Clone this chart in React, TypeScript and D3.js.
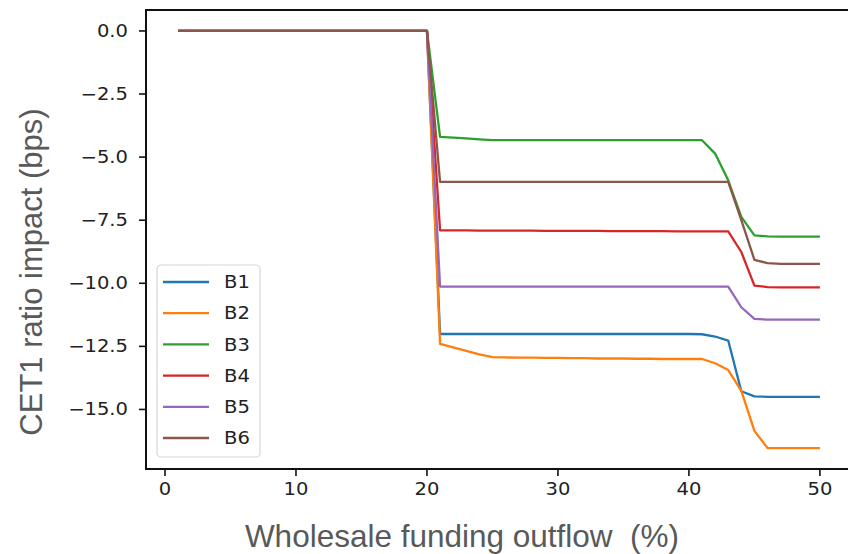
import React from "react";
import * as d3 from "d3";

// outflow in %, one point per step
const outflow = [
  1, 2, 3, 4, 5, 6, 7, 8, 9, 10, 11, 12, 13, 14, 15, 16, 17, 18, 19, 20,
  21, 22, 23, 24, 25, 26, 27, 28, 29, 30, 31, 32, 33, 34, 35, 36, 37, 38, 39, 40,
  41, 42, 43, 44, 45, 46, 47, 48, 49, 50,
];

const zeros20 = [0, 0, 0, 0, 0, 0, 0, 0, 0, 0, 0, 0, 0, 0, 0, 0, 0, 0, 0, 0];

const b1 = [
  ...zeros20,
  -12.01, -12.01, -12.01, -12.01, -12.01, -12.01, -12.01, -12.01, -12.01, -12.01,
  -12.01, -12.01, -12.01, -12.01, -12.01, -12.01, -12.01, -12.01, -12.01, -12.01,
  -12.02, -12.11, -12.27, -14.28, -14.48, -14.5, -14.5, -14.5, -14.5, -14.5,
];
const b2 = [
  ...zeros20,
  -12.4, -12.54, -12.68, -12.82, -12.93, -12.94, -12.95, -12.95, -12.96, -12.96,
  -12.97, -12.97, -12.98, -12.98, -12.98, -12.99, -12.99, -13.0, -13.0, -13.0,
  -13.0, -13.17, -13.44, -14.26, -15.85, -16.53, -16.53, -16.53, -16.53, -16.53,
];
const b3 = [
  ...zeros20,
  -4.2, -4.23, -4.26, -4.3, -4.33, -4.33, -4.33, -4.33, -4.33, -4.33,
  -4.33, -4.33, -4.33, -4.33, -4.33, -4.33, -4.33, -4.33, -4.33, -4.33,
  -4.33, -4.86, -5.92, -7.37, -8.1, -8.14, -8.15, -8.15, -8.15, -8.15,
];
const b4 = [
  ...zeros20,
  -7.9, -7.9, -7.9, -7.91, -7.91, -7.91, -7.91, -7.91, -7.92, -7.92,
  -7.92, -7.92, -7.92, -7.93, -7.93, -7.93, -7.93, -7.93, -7.94, -7.94,
  -7.94, -7.94, -7.94, -8.76, -10.09, -10.15, -10.16, -10.16, -10.16, -10.16,
];
const b5 = [
  ...zeros20,
  -10.13, -10.13, -10.13, -10.13, -10.13, -10.13, -10.13, -10.13, -10.13, -10.13,
  -10.13, -10.13, -10.13, -10.13, -10.13, -10.13, -10.13, -10.13, -10.13, -10.13,
  -10.13, -10.13, -10.13, -10.95, -11.41, -11.44, -11.44, -11.44, -11.44, -11.44,
];
const b6 = [
  ...zeros20,
  -5.98, -5.98, -5.98, -5.98, -5.98, -5.98, -5.98, -5.98, -5.98, -5.98,
  -5.98, -5.98, -5.98, -5.98, -5.98, -5.98, -5.98, -5.98, -5.98, -5.98,
  -5.98, -5.98, -5.98, -7.5, -9.07, -9.2, -9.23, -9.23, -9.23, -9.23,
];

const seriesNames = ["B1", "B2", "B3", "B4", "B5", "B6"];
const seriesValues = [b1, b2, b3, b4, b5, b6];
const colors = ["#1f77b4", "#ff7f0e", "#2ca02c", "#d62728", "#9467bd", "#8c564b"];

const xTicks = [0, 10, 20, 30, 40, 50];
const yTicks = [0, -2.5, -5, -7.5, -10, -12.5, -15];

const W = 848;
const H = 554;
const left = 146;
const right = 852;
const top = 10;
const bottom = 469;

const tickFont = "DejaVu Sans, sans-serif";
const labelFont = "Liberation Sans, Arial, sans-serif";
// the source picture is a bit wider than tall, so the small text is stretched
const stretch = "scale(1.15,1)";

export default function App() {
  const x = d3.scaleLinear().domain([-1.45, 52.45]).range([left, right]);
  const y = d3.scaleLinear().domain([0.83, -17.36]).range([top, bottom]);
  const fmt = d3.format(".1f");

  const line = d3
    .line<number>()
    .x((_, i) => x(outflow[i]))
    .y((d) => y(d));

  return (
    <svg
      width={W}
      height={H}
      style={{ position: "absolute", left: 0, top: 0, background: "#fff" }}
    >
      <rect x={0} y={0} width={W} height={H} fill="#fff" />

      <g>
        {seriesValues.map((vals, i) => (
          <path
            key={seriesNames[i]}
            d={line(vals) || ""}
            fill="none"
            stroke={colors[i]}
            strokeWidth={2.3}
            strokeLinejoin="round"
          />
        ))}
      </g>

      {/* spines */}
      <rect
        x={left}
        y={top}
        width={right - left}
        height={bottom - top}
        fill="none"
        stroke="#111"
        strokeWidth={2}
      />

      {/* x axis */}
      {xTicks.map((t) => (
        <g key={t} transform={`translate(${x(t)},${bottom})`}>
          <line y1={0} y2={7} stroke="#111" strokeWidth={1.6} />
          <text
            transform={`translate(0,26) ${stretch}`}
            textAnchor="middle"
            fontFamily={tickFont}
            fontSize={17}
            fill="#222"
          >
            {t}
          </text>
        </g>
      ))}

      {/* y axis */}
      {yTicks.map((t) => (
        <g key={t} transform={`translate(${left},${y(t)})`}>
          <line x1={0} x2={-7} stroke="#111" strokeWidth={1.6} />
          <text
            transform={`translate(-18,0) ${stretch}`}
            dy="0.35em"
            textAnchor="end"
            fontFamily={tickFont}
            fontSize={17}
            fill="#222"
          >
            {fmt(t)}
          </text>
        </g>
      ))}

      {/* axis labels */}
      <text
        x={462}
        y={547}
        textAnchor="middle"
        fontFamily={labelFont}
        fontSize={31.5}
        fill="#595959"
        style={{ whiteSpace: "pre" }}
      >
        {"Wholesale funding outflow  (%)"}
      </text>
      <text
        transform={`translate(42,272) rotate(-90)`}
        textAnchor="middle"
        fontFamily={labelFont}
        fontSize={31}
        fill="#595959"
      >
        CET1 ratio impact (bps)
      </text>

      {/* legend */}
      <g transform="translate(157,265)">
        <rect
          width={103}
          height={192}
          rx={4}
          fill="#fff"
          fillOpacity={0.85}
          stroke="#d6d6d6"
          strokeWidth={1.2}
        />
        {seriesNames.map((name, i) => (
          <g key={name} transform={`translate(0,${17 + i * 31.2})`}>
            <line x1={6} x2={52} stroke={colors[i]} strokeWidth={2.3} />
            <text
              transform={`translate(67,0) ${stretch}`}
              dy="0.36em"
              fontFamily={tickFont}
              fontSize={17}
              fill="#222"
            >
              {name}
            </text>
          </g>
        ))}
      </g>
    </svg>
  );
}
